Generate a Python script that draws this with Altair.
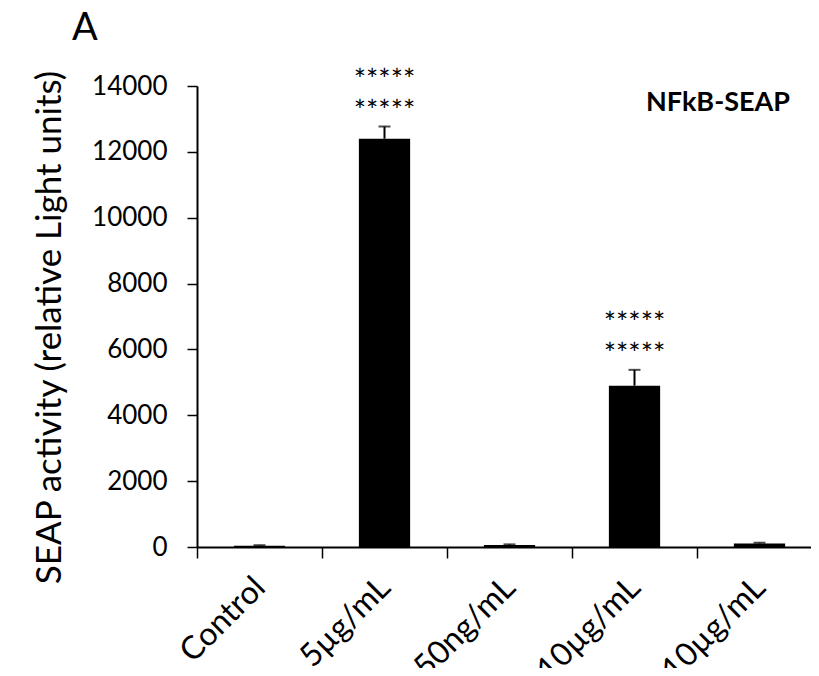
import altair as alt
import pandas as pd

keys = ["c1", "c2", "c3", "c4", "c5"]
labels = ["Control", "5µg/mL", "50ng/mL", "10µg/mL", "10µg/mL"]
values = [40, 12400, 60, 4900, 110]
errors = [15, 370, 20, 480, 20]
stars = ["", "*****\n*****", "", "*****\n*****", ""]
y_ticks = [0, 2000, 4000, 6000, 8000, 10000, 12000, 14000]

df = pd.DataFrame({"key": keys, "label": labels, "value": values, "err": errors, "stars": stars})
df["top"] = df["value"] + df["err"]

FONT = "Lato"
label_map = "{" + ",".join(f"'{k}':'{l}'" for k, l in zip(keys, labels)) + "}"

x_enc = alt.X(
    "key:N",
    sort=keys,
    scale=alt.Scale(range=[0, 625], paddingInner=0, paddingOuter=0),
    axis=alt.Axis(
        title=None,
        labelExpr=f"{label_map}[datum.value]",
        labelAngle=-45,
        labelAlign="right",
        labelBaseline="middle",
        labelFont=FONT,
        labelFontSize=32,
        labelColor="black",
        labelPadding=24,
        tickBand="extent",
        tickSize=11,
        tickWidth=1.5,
        tickColor="black",
        domainColor="black",
        domainWidth=2,
        labelOverlap=False,
    ),
)

y_enc = alt.Y(
    "value:Q",
    scale=alt.Scale(domain=[0, 14000], nice=False),
    axis=alt.Axis(
        values=y_ticks,
        format="d",
        title="SEAP activity (relative Light units)",
        titleFont=FONT,
        titleFontSize=35,
        titleFontWeight="normal",
        titleColor="black",
        titlePadding=24,
        titleY=241,
        labelFont=FONT,
        labelFontSize=26,
        labelColor="black",
        labelPadding=20,
        tickSize=10,
        tickWidth=1.5,
        tickColor="black",
        domainColor="black",
        domainWidth=2,
        grid=False,
    ),
)

base = alt.Chart(df)

bars = base.mark_bar(color="black", width=alt.RelativeBandSize(0.41)).encode(x=x_enc, y=y_enc)

err_rule = base.mark_rule(color="black", strokeWidth=2).encode(
    x=alt.X("key:N", sort=keys), y="value:Q", y2="top:Q"
)
err_cap = base.mark_tick(color="black", thickness=2, size=12).encode(
    x=alt.X("key:N", sort=keys), y="top:Q"
)

star_marks = base.transform_filter("datum.stars != ''").mark_text(
    font=FONT, fontSize=29, dy=-46, baseline="middle", lineBreak="\n", lineHeight=31, color="black"
).encode(x=alt.X("key:N", sort=keys), y="top:Q", text="stars:N")

panel_label = base.mark_text(
    text="A", font=FONT, fontSize=38, align="left", baseline="alphabetic", color="black"
).encode(x=alt.value(-125), y=alt.value(-46))

series_label = base.mark_text(
    text="NFkB-SEAP", font=FONT, fontSize=27, fontWeight="bold", align="right",
    baseline="middle", color="black"
).encode(x=alt.value(593), y=alt.value(17))

chart = alt.layer(
    bars, err_rule, err_cap, star_marks,
    panel_label.transform_filter("datum.key == 'c1'"),
    series_label.transform_filter("datum.key == 'c1'"),
).properties(
    width=614,
    height=461,
    autosize=alt.AutoSizeParams(type="none"),
    padding={"left": 189, "top": 78, "right": 0, "bottom": 121},
).configure_view(stroke=None)

chart.save("out.html", embed_options={"renderer": "svg", "actions": False})
